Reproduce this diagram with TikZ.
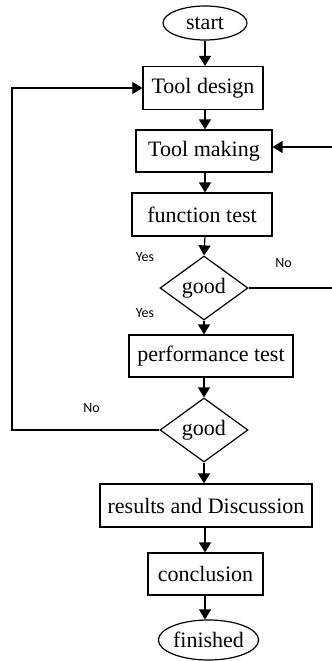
\documentclass[tikz,border=0pt]{standalone}
\usepackage{fontspec}
\setmainfont{Liberation Serif}
\newfontfamily\labelfont{Carlito}
\usetikzlibrary{shapes.geometric,arrows.meta}

\begin{document}
\begin{tikzpicture}[
  x=0.5pt, y=-0.5pt,
  box/.style={
    rectangle, draw, line width=0.6pt, inner sep=0pt,
    minimum height=21.5pt, align=center, font=\fontsize{11}{13}\selectfont
  },
  decision/.style={
    diamond, draw, line width=0.6pt, inner sep=0pt,
    minimum width=44pt, minimum height=28pt, font=\fontsize{11}{13}\selectfont
  },
  terminal/.style={
    ellipse, draw, line width=0.6pt, inner sep=0pt,
    font=\fontsize{11}{13}\selectfont
  },
  caption/.style={font=\labelfont\fontsize{7}{8}\selectfont},
  flow/.style={line width=0.6pt, -{Triangle[length=5pt,width=6pt]}},
  link/.style={line width=0.6pt}
]
\useasboundingbox (0,0) rectangle (332,661);

% --- Main column ---
\node[terminal, minimum width=42pt, minimum height=17pt] (start) at (205, 23) {start};
\node[box, minimum width=60pt]  (design)  at (203, 88)  {Tool design};
\node[box, minimum width=68pt, minimum height=21pt] (making) at (204, 151) {Tool making};
\node[box, minimum width=70pt]  (ftest)   at (202, 214.5) {function test};
\node[decision] (good1) at (204, 288) {good};
\node[box, minimum width=82pt, minimum height=21pt] (ptest) at (211, 356) {performance test};
\node[decision] (good2) at (204, 430) {good};
\node[box, minimum width=106pt] (results) at (206, 505.5) {results and Discussion};
\node[box, minimum width=57.5pt, minimum height=21pt] (concl) at (205.5, 574) {conclusion};
\node[terminal, minimum width=48.5pt, minimum height=20pt] (finish) at (208.5, 640) {finished};

% --- Yes / No labels ---
\node[caption] (yes1) at (145, 257) {Yes};
\node[caption] (no1)  at (283.5, 263) {No};
\node[caption] (yes2) at (145, 313) {Yes};
\node[caption] (no2)  at (91.5, 408) {No};

% --- Straight arrows (all on x = 205) ---
\draw[flow] (205, 0 |- start.south)   -- (205, 0 |- design.north);
\draw[flow] (205, 0 |- design.south)  -- (205, 0 |- making.north);
\draw[flow] (205, 0 |- making.south)  -- (205, 0 |- ftest.north);
\draw[flow] (205, 0 |- ftest.south)   -- (good1.north);
\draw[flow] (good1.south) -- (good1.south |- ptest.north);
\draw[flow] (good2.north |- ptest.south) -- (good2.north);
\draw[flow] (good2.south) -- (good2.south |- results.north);
\draw[flow] (205, 0 |- results.south) -- (205, 0 |- concl.north);
\draw[flow] (205, 0 |- concl.south)   -- (205, 0 |- finish.north);

% --- Loops back ---
\coordinate (backL) at (12, 88);
\coordinate (backR) at (340, 147);
\draw[flow] (good2.west) -| (backL) -- (design.west);
\draw[flow] (good1.east) -| (backR) -- (backR -| making.east);

\end{tikzpicture}
\end{document}
